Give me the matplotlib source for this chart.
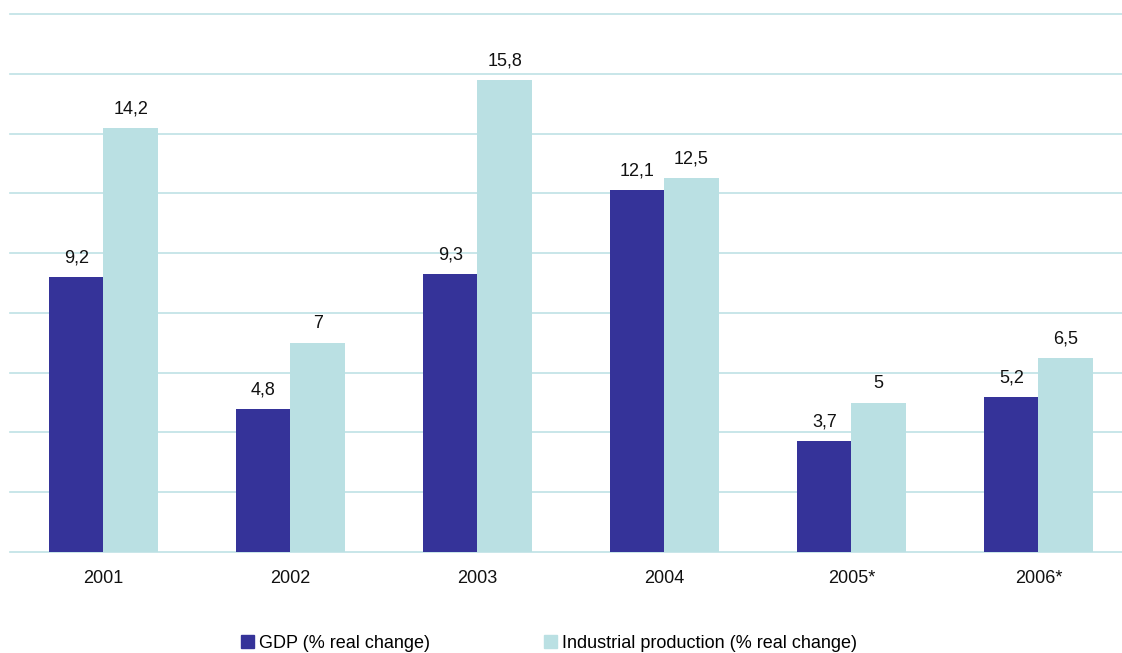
import matplotlib
matplotlib.use('agg')
import matplotlib.pyplot as plt
from matplotlib.patches import Patch
import numpy as np

years = ['2001', '2002', '2003', '2004', '2005*', '2006*']
gdp = [9.2, 4.8, 9.3, 12.1, 3.7, 5.2]
industrial = [14.2, 7, 15.8, 12.5, 5, 6.5]
gdp_labels = ['9,2', '4,8', '9,3', '12,1', '3,7', '5,2']
ind_labels = ['14,2', '7', '15,8', '12,5', '5', '6,5']

dark = '#353399'
light = '#bae0e3'
grid = '#bfe2e5'

plt.rcParams['font.family'] = ['Liberation Sans', 'DejaVu Sans']

fig = plt.figure(figsize=(11.22, 6.53), dpi=100)
ax = fig.add_axes([10 / 1122, 101 / 653, 1 - 10 / 1122, 547 / 653])

x = np.arange(len(years))
w = 0.29
b1 = ax.bar(x - w / 2, gdp, w, color=dark, zorder=3)
b2 = ax.bar(x + w / 2, industrial, w, color=light, zorder=3)

for bars, labels in ((b1, gdp_labels), (b2, ind_labels)):
  for r, lab in zip(bars, labels):
    ax.text(r.get_x() + r.get_width() / 2, r.get_height() + 0.35, lab,
            ha='center', va='bottom', fontsize=13, color='#111111')

ax.set_xlim(-0.5, 5.447)
ax.set_ylim(0, 18.3)
ax.set_yticks(np.arange(0, 19, 2))
ax.yaxis.grid(True, color=grid, linewidth=1.2, zorder=0)
for gl in ax.get_ygridlines():
  gl.set_clip_on(False)
ax.set_yticklabels([])
ax.set_xticks(x)
ax.set_xticklabels(years, fontsize=13, color='#111111')
ax.tick_params(axis='both', length=0)
ax.tick_params(axis='x', pad=13)
for s in ax.spines.values():
  s.set_visible(False)

handles = [Patch(color=dark, label='GDP (% real change)'),
           Patch(color=light, label='Industrial production (% real change)')]
fig.legend(handles=handles, loc='center', bbox_to_anchor=(549 / 1122, 1 - 643 / 653),
           ncol=2, frameon=False, fontsize=13, handlelength=0.7, handleheight=0.7,
           handletextpad=0.3, columnspacing=6.3, borderaxespad=0, borderpad=0)

plt.savefig('out.png', dpi=100)
plt.close()
